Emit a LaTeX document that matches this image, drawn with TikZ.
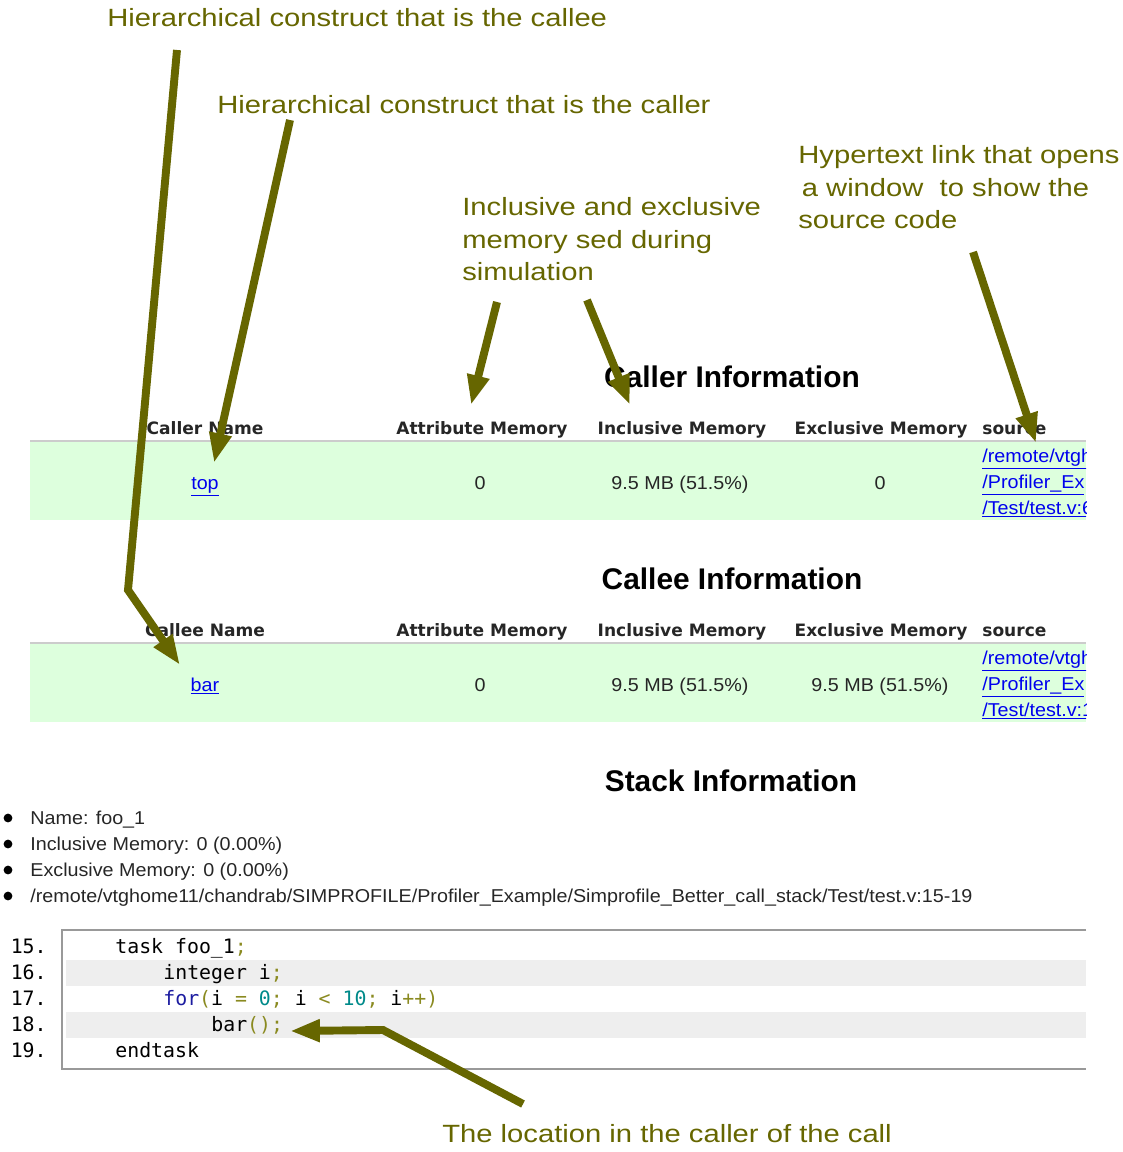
\documentclass[tikz,border=0pt]{standalone}
\usepackage{fontspec}
\setmainfont{Liberation Sans}
\newfontfamily\tablefont{DejaVu Sans}
\newfontfamily\notefont[FakeStretch=1.17]{Liberation Sans}
\newfontfamily\bodyfont[FakeStretch=1.06]{Liberation Sans}
\setmonofont{DejaVu Sans Mono}
\usetikzlibrary{arrows.meta, calc}
\definecolor{annot}{HTML}{666600}
\definecolor{rowgreen}{HTML}{DDFFDD}
\definecolor{linkblue}{HTML}{0000EE}
\definecolor{codeband}{HTML}{EEEEEE}
\definecolor{kwblue}{HTML}{1C1CA0}
\definecolor{numteal}{HTML}{008A8A}
\definecolor{punct}{HTML}{8A8A20}
\tikzset{
    >={Triangle[length=17pt, width=12pt]},
    note/.style={annot, font=\notefont\fontsize{14.2}{18.6}\selectfont, align=left, inner sep=0pt},
    pointer/.style={->, annot, line width=4.5pt},
    heading/.style={font=\bfseries\fontsize{17}{20}\selectfont, inner sep=0pt, anchor=base},
    colhead/.style={font=\tablefont\bfseries\fontsize{9.7}{12}\selectfont, text=black!85, inner sep=0pt, anchor=base},
    cell/.style={font=\bodyfont\fontsize{10.6}{13}\selectfont, text=black!85, inner sep=0pt, anchor=base},
    link/.style={cell, text=linkblue},
    rule/.style={draw=black!20, line width=1.2pt},
    codeline/.style={font=\ttfamily\fontsize{11.3}{13}\selectfont, inner sep=0pt, anchor=base west},
    bolddot/.style={shape=circle, fill=black, inner sep=0pt, minimum size=5pt},
}
\begin{document}
\begin{tikzpicture}[x=0.02cm, y=-0.02cm]
    \useasboundingbox (0,0) rectangle (1122,1152);
    % caller table
    \node[heading] (callerhead) at (732,387) {Caller Information};
    \fill[rowgreen] (30,441) rectangle (1086,520);
    \draw[rule] (30,441) -- (1086,441);
    \foreach \n/\x/\t in {callername/205/Caller Name, callerattr/482/Attribute Memory,
                         callerincl/682/Inclusive Memory, callerexcl/881/Exclusive Memory}
        \node[colhead] (\n) at (\x,434) {\t};
    \node[colhead, anchor=base west] (callersrc) at (982,434) {source};
    \node[link] (topname) at (205,489) {\underline{top}};
    \node[cell] (callerattrval) at (480,489) {0};
    \node[cell] (callerinclval) at (680,489) {9.5 MB (51.5\%)};
    \node[cell] (callerexclval) at (880,489) {0};
    \begin{scope}
        \clip (975,441) rectangle (1086,520);
        \foreach \i/\y/\t in {1/462/{/remote/vtgho}, 2/488/{/Profiler\_Ex}, 3/514/{/Test/test.v:6}}
            \node[link, anchor=base west] (callerlink\i) at (982,\y) {\underline{\t}};
    \end{scope}
    % callee table
    \node[heading] (calleehead) at (732,589) {Callee Information};
    \fill[rowgreen] (30,643) rectangle (1086,722);
    \draw[rule] (30,643) -- (1086,643);
    \foreach \n/\x/\t in {calleename/205/Callee Name, calleeattr/482/Attribute Memory,
                         calleeincl/682/Inclusive Memory, calleeexcl/881/Exclusive Memory}
        \node[colhead] (\n) at (\x,636) {\t};
    \node[colhead, anchor=base west] (calleesrc) at (982,636) {source};
    \node[link] (barname) at (205,691) {\underline{bar}};
    \node[cell] (calleeattrval) at (480,691) {0};
    \node[cell] (calleeinclval) at (680,691) {9.5 MB (51.5\%)};
    \node[cell] (calleeexclval) at (880,691) {9.5 MB (51.5\%)};
    \begin{scope}
        \clip (975,643) rectangle (1086,722);
        \foreach \i/\y/\t in {1/664/{/remote/vtgho}, 2/690/{/Profiler\_Ex}, 3/716/{/Test/test.v:1}}
            \node[link, anchor=base west] (calleelink\i) at (982,\y) {\underline{\t}};
    \end{scope}
    % stack
    \node[heading] (stackhead) at (731,791) {Stack Information};
    \foreach \i/\y/\t in {1/824/{Name: foo\_1}, 2/850/{Inclusive Memory: 0 (0.00\%)},
                         3/876/{Exclusive Memory: 0 (0.00\%)},
                         4/902/{/remote/vtghome11/chandrab/SIMPROFILE/Profiler\_Example/Simprofile\_Better\_call\_stack/Test/test.v:15-19}} {
        \node[bolddot] (dot\i) at (8,\y-6) {};
        \node[cell, anchor=base west] (item\i) at (30,\y) {\t};
    }
    % source listing
    \foreach \y in {960,1012} \fill[codeband] (66,\y) rectangle (1086,\y+26);
    \draw[draw=black!40, line width=1.6pt] (1086,930) -- (62,930) -- (62,1069) -- (1086,1069);
    \foreach \i [evaluate={\y=953+26*(\i-15)}] in {15,...,19}
        \node[codeline, anchor=base east] (ln\i) at (47,\y) {\i.};
    \node[codeline] (code15) at (115,953) {task foo\_1{\color{punct};}};
    \node[codeline] (code16) at (163,979) {integer i{\color{punct};}};
    \node[codeline] (code17) at (163,1005) {{\color{kwblue}for}{\color{punct}(}i {\color{punct}=} {\color{numteal}0}{\color{punct};} i {\color{punct}<} {\color{numteal}10}{\color{punct};} i{\color{punct}++)}};
    \node[codeline] (code18) at (211,1031) {bar{\color{punct}();}};
    \node[codeline] (code19) at (115,1057) {endtask};
    % notes
    \node[note, anchor=base west] (calleenote) at (107,27) {Hierarchical construct that is the callee};
    \node[note, anchor=base west] (callernote) at (217,114) {Hierarchical construct that is the caller};
    \node[note, anchor=north west] (memnote) at (462,197) {Inclusive and exclusive\\memory sed during\\simulation};
    \node[note, anchor=north west] (srcnote) at (798,145) {Hypertext link that opens\\\hspace{2pt}a window\ \ to show the\\source code};
    \node[note, anchor=base west] (callnote) at (442,1142) {The location in the caller of the call};
    % pointers
    \coordinate (calleetail) at (177,50);
    \coordinate (calleebend) at (128,590);
    \coordinate (calleetip) at (180,665);
    \coordinate (callertail) at (290,120);
    \coordinate (callertip) at (214,463);
    \coordinate (attrtail) at (497,302);
    \coordinate (attrtip) at (471,405);
    \coordinate (incltail) at (587,300);
    \coordinate (incltip) at (630,405);
    \coordinate (srctail) at (973,252);
    \coordinate (srctip) at (1036,443);
    \coordinate (calltail) at (523,1104);
    \coordinate (callbend) at (383,1030);
    \coordinate (calltip) at (290,1031);
    \draw[pointer] (calleetail) -- (calleebend) -- (calleetip);
    \draw[pointer] (callertail) -- (callertip);
    \draw[pointer] (attrtail) -- (attrtip);
    \draw[pointer] (incltail) -- (incltip);
    \draw[pointer] (srctail) -- (srctip);
    \draw[pointer] (calltail) -- (callbend) -- (calltip);
\end{tikzpicture}
\end{document}
